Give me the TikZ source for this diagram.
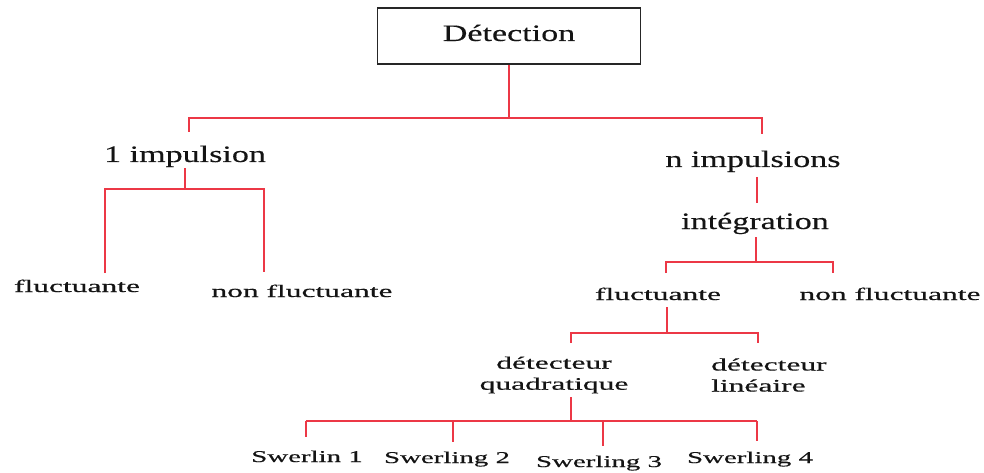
\documentclass[tikz,border=0pt]{standalone}
\usepackage{fontspec}
\setmainfont{Liberation Serif}
\newfontfamily\headfont[FakeStretch=1.45, FakeBold=0.3]{Liberation Serif}
\newfontfamily\leaffont[FakeStretch=1.8, FakeBold=0.6]{Liberation Serif}
\newfontfamily\swfont[FakeStretch=1.75, FakeBold=0.5]{Liberation Serif}

\definecolor{linkred}{RGB}{236,56,70}
\definecolor{ink}{RGB}{20,20,20}

\tikzset{
  link/.style={draw=linkred, line width=1.8pt},
  head/.style={font=\headfont\fontsize{23.5}{27}\selectfont, inner sep=0pt, anchor=base, text=ink},
  leaf/.style={font=\leaffont\fontsize{17.5}{21}\selectfont, inner sep=0pt, anchor=base, text=ink},
  swl/.style={font=\swfont\fontsize{16.5}{20}\selectfont, inner sep=0pt, anchor=base, text=ink},
  rootbox/.style={draw=black!85, line width=1.5pt, minimum width=263pt, minimum height=56pt,
    inner sep=0pt, text height=16pt, text depth=6pt, text=ink,
    font=\headfont\fontsize{23.5}{27}\selectfont}
}

\begin{document}
\begin{tikzpicture}[x=1pt, y=-1pt]
\useasboundingbox (0,0) rectangle (984,473);

% root
\node[rootbox] (det) at (509,36) {Détection};

% first level
\coordinate (t0) at (509,118);
\coordinate (tL) at (189,118);
\coordinate (tR) at (762,118);
\coordinate (tLe) at (189,132);
\coordinate (tRe) at (762,134);
\draw[link] (det.south) -- (t0);
\draw[link] (tLe) -- (tL) -- (tR) -- (tRe);

% single pulse branch
\node[head] (imp1) at (185,162) {1 impulsion};
\node[leaf] (fl1) at (77,292) {fluctuante};
\node[leaf] (nfl1) at (302,297) {non fluctuante};
\coordinate (a0) at (185,189);
\coordinate (aL) at (105,189);
\coordinate (aR) at (264,189);
\coordinate (aLe) at (105,273);
\coordinate (aRe) at (264,272);
\draw[link] ([yshift=-1pt]imp1.south) -- (a0);
\draw[link] (aLe) -- (aL) -- (aR) -- (aRe);

% multiple pulse branch
\node[head] (impn) at (753,167) {n impulsions};
\node[head] (integ) at (755,229) {intégration};
\coordinate (b0s) at (757,177);
\coordinate (b0e) at (757,203);
\draw[link] (b0s) -- (b0e);

\coordinate (c0s) at (756,237);
\coordinate (c0) at (756,262);
\coordinate (cL) at (666,262);
\coordinate (cR) at (833,262);
\coordinate (cLe) at (666,273);
\coordinate (cRe) at (833,273);
\draw[link] (c0s) -- (c0);
\draw[link] (cLe) -- (cL) -- (cR) -- (cRe);

\node[leaf] (fl2) at (658,300) {fluctuante};
\node[leaf] (nfl2) at (890,300) {non fluctuante};

\coordinate (d0s) at (667,307);
\coordinate (d0) at (667,333);
\coordinate (dL) at (571,333);
\coordinate (dR) at (758,333);
\coordinate (dLe) at (571,343);
\coordinate (dRe) at (758,343);
\draw[link] (d0s) -- (d0);
\draw[link] (dLe) -- (dL) -- (dR) -- (dRe);

% detectors
\node[leaf, anchor=center, align=center] (dq) at (554,375) {détecteur\\quadratique};
\node[leaf, anchor=west, align=left] (dl) at (711,375) {détecteur\\linéaire};

% Swerling cases
\coordinate (e0s) at (571,397);
\coordinate (e0) at (571,421);
\coordinate (e1) at (306,421);
\coordinate (e2) at (453,421);
\coordinate (e3) at (603,421);
\coordinate (e4) at (757,421);
\coordinate (e1e) at (306,437);
\coordinate (e2e) at (453,442);
\coordinate (e3e) at (603,446);
\coordinate (e4e) at (757,441);
\draw[link] (e0s) -- (e0);
\draw[link] (e1) -- (e4);
\draw[link] (e1) -- (e1e);
\draw[link] (e2) -- (e2e);
\draw[link] (e3) -- (e3e);
\draw[link] (e4) -- (e4e);

\node[swl] (sw1) at (307,462) {Swerlin 1};
\node[swl] (sw2) at (447,463) {Swerling 2};
\node[swl] (sw3) at (599,467) {Swerling 3};
\node[swl] (sw4) at (750,463) {Swerling 4};
\end{tikzpicture}
\end{document}
